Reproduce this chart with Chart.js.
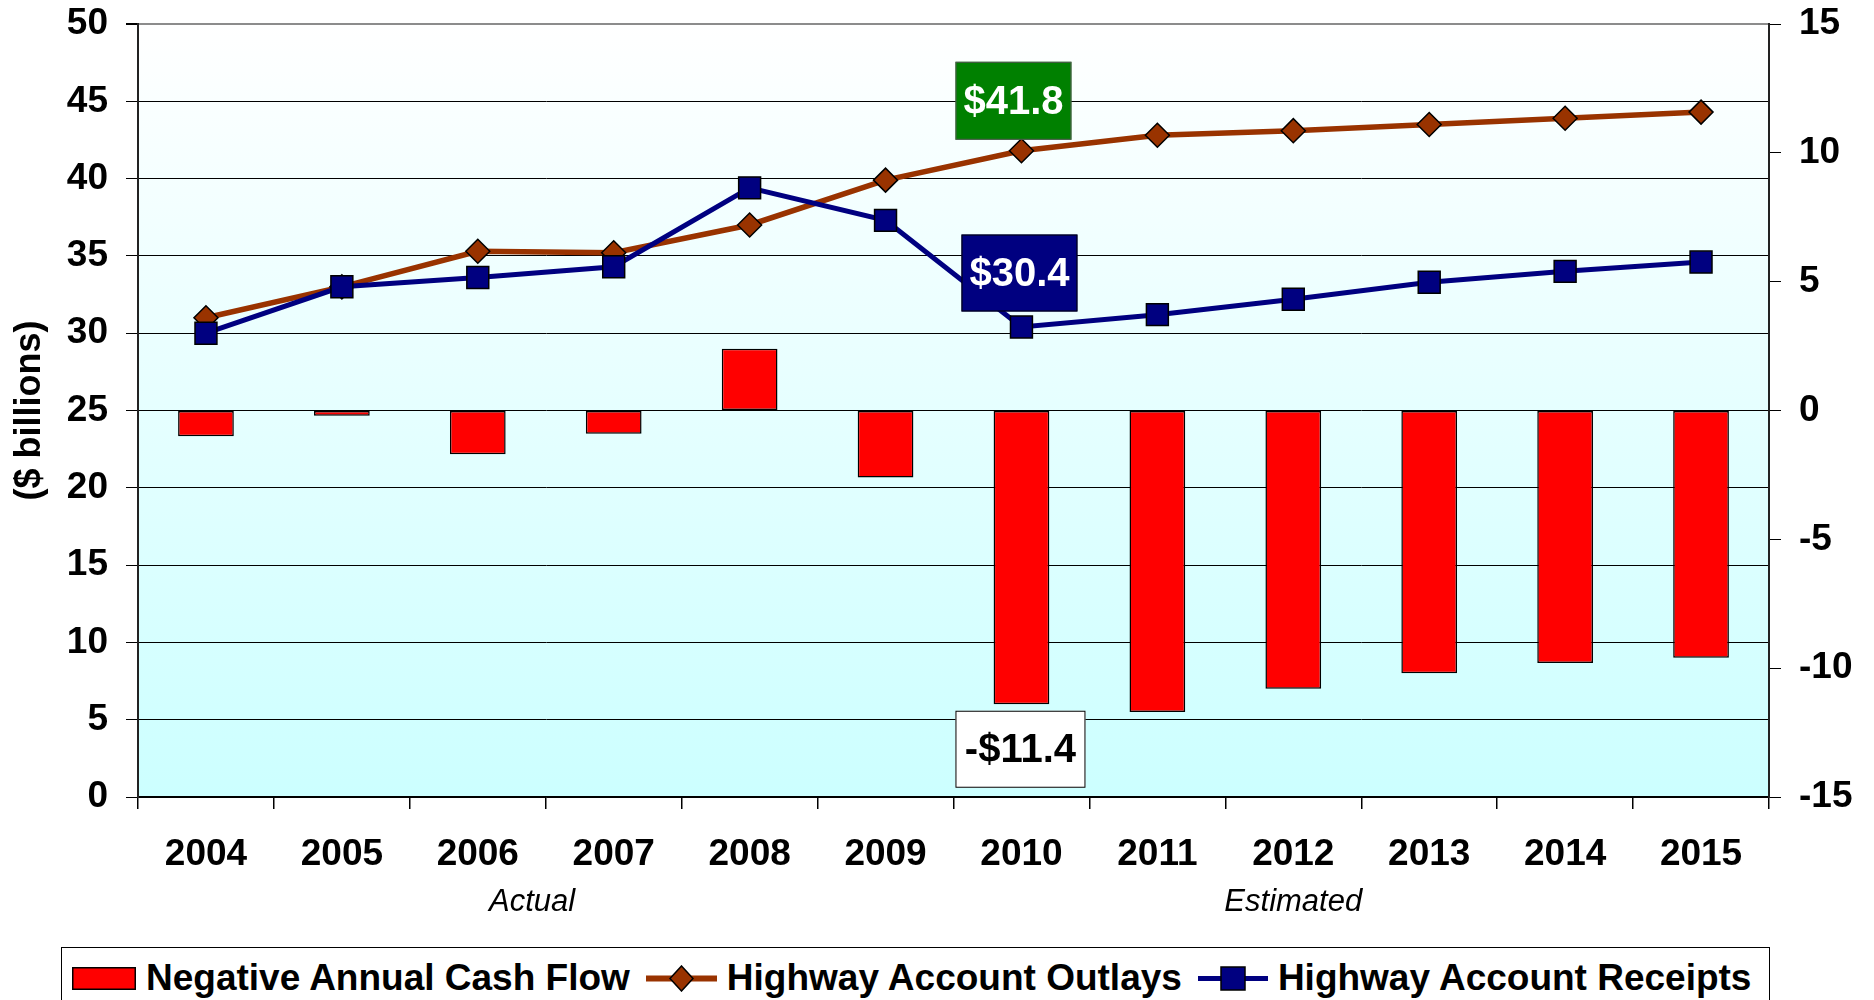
<!DOCTYPE html>
<html>
<head>
<meta charset="utf-8">
<script src="https://cdn.jsdelivr.net/npm/chart.js@4"></script>
<style>
  body { margin: 0; background: #fff; }
  #wrap { position: relative; width: 1874px; height: 1000px; overflow: hidden; }
  #chart { position: absolute; left: 0; top: 0; }
  #legend {
    position: absolute; left: 61px; top: 947px; width: 1709px; height: 62px;
    box-sizing: border-box; border: 1.5px solid #000; background: #fff;
    display: flex; align-items: center; padding-left: 10px;
    font: bold 37px 'Liberation Sans', Arial, sans-serif; color: #000; white-space: nowrap;
  }
  #legend .item { display: flex; align-items: center; margin-right: 16px; }
  #legend svg { margin-right: 10px; }
</style>
</head>
<body>
<div id="wrap">
  <canvas id="chart" width="1874" height="1000"></canvas>
  <div id="legend"></div>
</div>
<script>
const years = ['2004', '2005', '2006', '2007', '2008', '2009', '2010', '2011', '2012', '2013', '2014', '2015'];
const cashFlow = [-1.0, -0.2, -1.7, -0.9, 2.4, -2.6, -11.4, -11.7, -10.8, -10.2, -9.8, -9.6];
const outlays = [31.0, 33.0, 35.3, 35.2, 37.0, 39.9, 41.8, 42.8, 43.1, 43.5, 43.9, 44.3];
const receipts = [30.0, 33.0, 33.6, 34.3, 39.4, 37.3, 30.4, 31.2, 32.2, 33.3, 34.0, 34.6];
const seriesNames = ['Negative Annual Cash Flow', 'Highway Account Outlays', 'Highway Account Receipts'];
const leftTicks = [0, 50, 5];
const rightTicks = [-15, 15, 5];
const periodLabels = ['Actual', 'Estimated'];

const FONT = "'Liberation Sans', Arial, sans-serif";
Chart.defaults.font.family = FONT;
Chart.defaults.color = '#000';

// gradient fill behind the plot area
const backdrop = {
  id: 'backdrop',
  beforeDraw(chart) {
    const { ctx, chartArea: a } = chart;
    const g = ctx.createLinearGradient(0, a.top, 0, a.bottom);
    g.addColorStop(0, '#ffffff');
    g.addColorStop(1, '#ccffff');
    ctx.save();
    ctx.fillStyle = g;
    ctx.fillRect(a.left, a.top, a.right - a.left, a.bottom - a.top);
    ctx.restore();
  }
};

function callout(ctx, text, cx, cy, w, h, fill, color, stroke) {
  ctx.save();
  ctx.fillStyle = fill;
  ctx.fillRect(cx - w / 2, cy - h / 2, w, h);
  ctx.strokeStyle = stroke;
  ctx.lineWidth = 1;
  ctx.strokeRect(cx - w / 2 + 0.5, cy - h / 2 + 0.5, w - 1, h - 1);
  ctx.fillStyle = color;
  ctx.font = `bold 40px ${FONT}`;
  ctx.textAlign = 'center';
  ctx.textBaseline = 'middle';
  ctx.fillText(text, cx, cy + 2);
  ctx.restore();
}

// boxed value labels for 2010
const callouts = {
  id: 'callouts',
  afterDatasetsDraw(chart) {
    const { ctx } = chart;
    const i = years.indexOf('2010');
    const bar = chart.getDatasetMeta(0).data[i];
    const out = chart.getDatasetMeta(1).data[i];
    const rec = chart.getDatasetMeta(2).data[i];
    callout(ctx, `$${outlays[i].toFixed(1)}`, out.x - 8, out.y - 50, 116, 78, '#008000', '#fff', '#555');
    callout(ctx, `$${receipts[i].toFixed(1)}`, rec.x - 2, rec.y - 54, 116, 77, '#000080', '#fff', '#000');
    callout(ctx, `-$${Math.abs(cashFlow[i]).toFixed(1)}`, bar.x - 1, bar.y + 45, 130, 77, '#fff', '#000', '#000');
  }
};

// "Actual" / "Estimated" under the year labels
const periods = {
  id: 'periods',
  afterDraw(chart) {
    const { ctx, chartArea: a } = chart;
    const x = chart.scales.x;
    ctx.save();
    ctx.font = `italic 31px ${FONT}`;
    ctx.fillStyle = '#000';
    ctx.textAlign = 'center';
    ctx.textBaseline = 'middle';
    ctx.fillText(periodLabels[0], x.getPixelForValue(2.4), a.bottom + 105);
    ctx.fillText(periodLabels[1], x.getPixelForValue(8), a.bottom + 105);
    ctx.restore();
  }
};

const tickFont = { size: 37, weight: 'bold' };

function fixWidth(w) {
  return (scale) => {
    scale.width = w;
    scale.paddingTop = 0;
    scale.paddingBottom = 0;
  };
}

// eslint-disable-next-line no-new
new Chart(document.getElementById('chart'), {
  type: 'bar',
  data: {
    labels: years,
    datasets: [{
      type: 'bar',
      label: seriesNames[0],
      data: cashFlow,
      yAxisID: 'y1',
      backgroundColor: '#ff0000',
      borderColor: '#000',
      borderWidth: 1.5,
      borderSkipped: false,
      categoryPercentage: 1,
      barPercentage: 0.41,
      order: 3
    }, {
      type: 'line',
      label: seriesNames[1],
      data: outlays,
      yAxisID: 'y',
      borderColor: '#993300',
      backgroundColor: '#993300',
      borderWidth: 5.5,
      tension: 0,
      pointStyle: 'rectRot',
      pointRadius: 12,
      pointBackgroundColor: '#993300',
      pointBorderColor: '#000',
      pointBorderWidth: 1.5,
      order: 2
    }, {
      type: 'line',
      label: seriesNames[2],
      data: receipts,
      yAxisID: 'y',
      borderColor: '#000080',
      backgroundColor: '#000080',
      borderWidth: 5,
      tension: 0,
      pointStyle: 'rect',
      pointRadius: 15.5,
      pointBackgroundColor: '#000080',
      pointBorderColor: '#000',
      pointBorderWidth: 1.5,
      order: 1
    }]
  },
  options: {
    responsive: false,
    animation: false,
    layout: { padding: { top: 24, left: 0, right: 0, bottom: 0 } },
    plugins: {
      legend: { display: false },
      tooltip: { enabled: false }
    },
    scales: {
      x: {
        offset: true,
        grid: { offset: true, drawOnChartArea: false, tickLength: 12, tickColor: '#000', lineWidth: 1.5 },
        border: { color: '#000', width: 1.5 },
        ticks: { font: tickFont, padding: 24, maxRotation: 0, autoSkip: false },
        afterFit(scale) {
          scale.height = 203;
          scale.paddingLeft = 0;
          scale.paddingRight = 0;
        }
      },
      y: {
        position: 'left',
        min: leftTicks[0],
        max: leftTicks[1],
        ticks: { stepSize: leftTicks[2], font: tickFont, padding: 18 },
        grid: {
          color: (c) => (c.tick && c.tick.value === leftTicks[1] ? '#8c8c8c' : '#000'),
          lineWidth: (c) => (c.tick && c.tick.value === leftTicks[1] ? 2 : 1),
          tickLength: 12,
          tickColor: '#000'
        },
        border: { color: '#222', width: 2 },
        title: {
          display: true,
          text: '($ billions)',
          font: { size: 36, weight: 'bold' },
          padding: { top: 8, bottom: 0 }
        },
        afterFit: fixWidth(138)
      },
      y1: {
        position: 'right',
        min: rightTicks[0],
        max: rightTicks[1],
        ticks: { stepSize: rightTicks[2], font: tickFont, padding: 18 },
        grid: { drawOnChartArea: false, tickLength: 12, tickColor: '#000' },
        border: { color: '#222', width: 2 },
        afterFit: fixWidth(105)
      }
    }
  },
  plugins: [backdrop, callouts, periods]
});

// legend below the chart, boxed
const markers = [
  '<svg width="64" height="23"><rect x="0.75" y="0.75" width="62.5" height="21.5" fill="#ff0000" stroke="#000" stroke-width="1.5"/></svg>',
  '<svg width="71" height="27"><line x1="0" y1="13.5" x2="71" y2="13.5" stroke="#993300" stroke-width="6"/>'
    + '<path d="M35.5 1 L47 13.5 L35.5 26 L24 13.5 Z" fill="#993300" stroke="#000" stroke-width="1.5"/></svg>',
  '<svg width="70" height="25"><line x1="0" y1="12.5" x2="70" y2="12.5" stroke="#000080" stroke-width="5"/>'
    + '<rect x="23" y="1" width="24" height="23" fill="#000080" stroke="#000" stroke-width="1.5"/></svg>'
];
document.getElementById('legend').innerHTML = seriesNames
  .map((name, i) => `<span class="item">${markers[i]}<span>${name}</span></span>`)
  .join('');
</script>
</body>
</html>
